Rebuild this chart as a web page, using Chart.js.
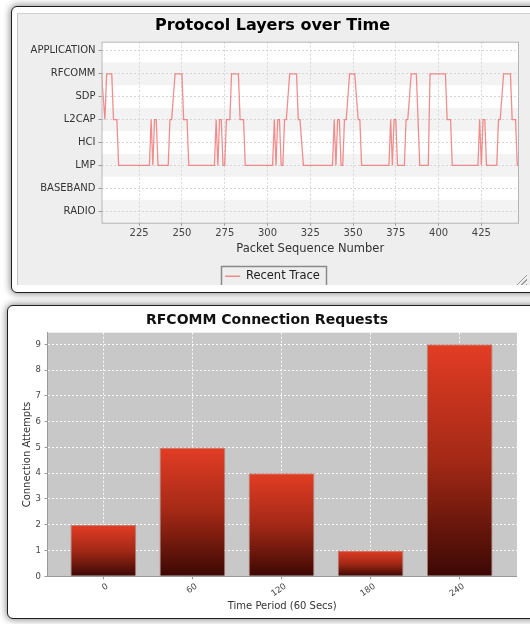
<!DOCTYPE html>
<html>
<head>
<meta charset="utf-8">
<script src="https://cdn.jsdelivr.net/npm/chart.js@4.4.1/dist/chart.umd.min.js"></script>
<style>
  html, body { margin: 0; padding: 0; background: #fff; }
  #page { position: relative; width: 530px; height: 624px; overflow: hidden; background: #fff; }
  .win { position: absolute; background: #fff; border: 1.5px solid #1e1e1e; border-radius: 6px;
         box-shadow: 0 0 7px 1px rgba(0,0,0,0.45); }
  #win1 { left: 11px; top: 6px; width: 540px; height: 285px; }
  #win2 { left: 7px; top: 305px; width: 540px; height: 312px; }
  #panel1 { position: absolute; left: 17px; top: 13px; width: 530px; height: 272px; overflow: hidden;
            background: #eeeeee; border-left: 1px solid #c4c4c4; border-top: 1px solid #d0d0d0; box-sizing: border-box; }
  #layers { position: absolute; left: 8px; top: 0; }
  #rfcomm { position: absolute; left: 17px; top: 306px; }
  #grip { position: absolute; left: 514px; top: 272px; width: 13px; height: 13px;
          background: repeating-linear-gradient(135deg, transparent 0 2px, #9a9a9a 2px 3px);
          clip-path: polygon(100% 0, 100% 100%, 0 100%); }
</style>
</head>
<body>
<div id="page">
  <div class="win" id="win1"></div>
  <div id="panel1"><canvas id="layers" width="493" height="278"></canvas></div>
  <div id="grip"></div>
  <div class="win" id="win2"></div>
  <canvas id="rfcomm" width="500" height="312"></canvas>
</div>
<script>
// protocol stack, bottom to top of the symbol axis
var layerNames = ['RADIO', 'BASEBAND', 'LMP', 'HCI', 'L2CAP', 'SDP', 'RFCOMM', 'APPLICATION'];

// recent trace: packet sequence number and the layer it was seen on (corners of the trace)
var seqNums = [203, 205, 206, 209, 210, 212, 213, 231, 232, 233, 234, 235, 236, 242, 243, 244, 246, 250, 251, 253, 254,
    269, 270, 271, 272, 273, 274, 275, 276, 278, 279, 283, 284, 286, 287,
    303, 304, 305, 306, 307, 308, 309, 310, 311, 313, 317, 318, 319, 321,
    338, 339, 340, 341, 342, 343, 344, 345, 346, 348, 351, 353, 354, 355,
    371, 372, 373, 374, 375, 376, 380, 381, 382, 384, 387, 389, 394, 395, 404, 405, 407, 408,
    423, 424, 425, 426, 427, 428, 434, 435, 436, 438, 442, 443, 445, 446, 447];
var traceLayers = ['RFCOMM', 'L2CAP', 'RFCOMM', 'RFCOMM', 'L2CAP', 'L2CAP', 'LMP', 'LMP', 'L2CAP', 'LMP', 'L2CAP', 'L2CAP', 'LMP', 'LMP', 'L2CAP', 'L2CAP', 'RFCOMM', 'RFCOMM', 'L2CAP', 'L2CAP', 'LMP',
    'LMP', 'L2CAP', 'LMP', 'L2CAP', 'L2CAP', 'LMP', 'LMP', 'L2CAP', 'L2CAP', 'RFCOMM', 'RFCOMM', 'L2CAP', 'L2CAP', 'LMP',
    'LMP', 'L2CAP', 'LMP', 'L2CAP', 'L2CAP', 'LMP', 'LMP', 'L2CAP', 'L2CAP', 'RFCOMM', 'RFCOMM', 'L2CAP', 'L2CAP', 'LMP',
    'LMP', 'L2CAP', 'LMP', 'L2CAP', 'L2CAP', 'LMP', 'LMP', 'L2CAP', 'L2CAP', 'RFCOMM', 'RFCOMM', 'L2CAP', 'L2CAP', 'LMP',
    'LMP', 'L2CAP', 'LMP', 'L2CAP', 'L2CAP', 'LMP', 'LMP', 'L2CAP', 'L2CAP', 'RFCOMM', 'RFCOMM', 'LMP', 'LMP', 'RFCOMM', 'RFCOMM', 'L2CAP', 'L2CAP', 'LMP',
    'LMP', 'L2CAP', 'LMP', 'L2CAP', 'L2CAP', 'LMP', 'LMP', 'L2CAP', 'L2CAP', 'RFCOMM', 'RFCOMM', 'L2CAP', 'L2CAP', 'LMP', 'LMP'];

// connection requests per 60 second period
var periods = [0, 60, 120, 180, 240];
var attempts = [2, 5, 4, 1, 9];

Chart.defaults.font.family = "'DejaVu Sans', sans-serif";

//plot background, alternate bands, outline and legend frame
var plotBackdrop = {
    id: 'plotBackdrop',
    beforeDraw: function(chart, args, opts) {
        var ctx = chart.ctx, a = chart.chartArea, y = chart.scales.y;
        ctx.save();
        ctx.fillStyle = opts.color;
        ctx.fillRect(a.left, a.top, a.width, a.height);
        if (opts.bandColor) {
            ctx.fillStyle = opts.bandColor;
            for (var i = 0; i < layerNames.length; i += 2) {
                var top = Math.max(y.getPixelForValue(i + 0.5), a.top);
                var bottom = Math.min(y.getPixelForValue(i - 0.5), a.bottom);
                ctx.fillRect(a.left, top, a.width, bottom - top);
            }
        }
        ctx.restore();
    },
    afterDraw: function(chart, args, opts) {
        var ctx = chart.ctx, a = chart.chartArea;
        ctx.save();
        if (opts.outline) {
            ctx.strokeStyle = opts.outline;
            ctx.lineWidth = 1;
            ctx.strokeRect(a.left + 0.5, a.top + 0.5, a.width - 1, a.height);
        }
        if (opts.legendFrame && chart.legend && chart.legend.legendHitBoxes.length) {
            var h = chart.legend.legendHitBoxes[0];
            ctx.strokeStyle = opts.legendFrame;
            ctx.lineWidth = 1.5;
            ctx.strokeRect(Math.round(h.left - 4) + 0.5, Math.round(h.top - 5) + 0.5, Math.round(h.width + 10), Math.round(h.height + 10));
        }
        ctx.restore();
    }
};

function insertLayers() {
    var points = seqNums.map(function(s, i) {
        return {x: s, y: layerNames.indexOf(traceLayers[i])};
    });
    new Chart(document.getElementById('layers'), {
        type: 'line',
        data: {
            datasets: [{
                label: 'Recent Trace',
                data: points,
                borderColor: 'rgba(236,100,100,0.72)',
                backgroundColor: 'rgba(236,100,100,0.72)',
                borderWidth: 1.3,
                pointRadius: 0,
                tension: 0,
                fill: false
            }]
        },
        options: {
            responsive: false,
            animation: false,
            layout: {padding: 0},
            plugins: {
                title: {
                    display: true,
                    text: 'Protocol Layers over Time',
                    color: '#000',
                    font: {size: 16, weight: 'bold'},
                    padding: {top: 2.4, bottom: 6.1}
                },
                legend: {
                    position: 'bottom',
                    labels: {
                        usePointStyle: true,
                        pointStyle: 'line',
                        pointStyleWidth: 15,
                        color: '#222',
                        font: {size: 11.5},
                        padding: 6
                    }
                },
                tooltip: {enabled: false},
                plotBackdrop: {color: '#ffffff', bandColor: '#f3f3f3', outline: '#b4b4b4', legendFrame: '#8a8a8a'}
            },
            scales: {
                x: {
                    type: 'linear',
                    min: 203,
                    max: 447,
                    afterFit: function(s) { s.height = 41.8; },
                    ticks: {stepSize: 25, includeBounds: false, maxRotation: 0, color: '#444', font: {size: 10}, padding: 2},
                    grid: {color: '#d6d6d6', tickLength: 3, tickColor: '#999'},
                    border: {display: false, dash: [2, 2]},
                    title: {display: true, text: 'Packet Sequence Number', color: '#333', font: {size: 11.5}, padding: {top: 0, bottom: 8.3}}
                },
                y: {
                    type: 'linear',
                    min: -0.5,
                    max: 7.4,
                    afterFit: function(s) { s.width = 75.5; },
                    afterBuildTicks: function(s) {
                        s.ticks = layerNames.map(function(n, i) { return {value: i}; });
                    },
                    ticks: {
                        autoSkip: false,
                        color: '#333',
                        font: {size: 10},
                        padding: 3,
                        callback: function(v) { return layerNames[v]; }
                    },
                    grid: {color: '#d6d6d6', tickLength: 3, tickColor: '#999'},
                    border: {display: false, dash: [2, 2]}
                }
            }
        },
        plugins: [plotBackdrop]
    });
}

function insertRequests() {
    //one gradient per bar, bright on top and dark at zero
    var barFill = function(context) {
        var chart = context.chart;
        if (!chart.chartArea || context.type !== 'data') return '#c8341f';
        var y = chart.scales.y;
        var g = chart.ctx.createLinearGradient(0, y.getPixelForValue(context.raw.y), 0, y.getPixelForValue(0));
        g.addColorStop(0, '#e33d24');
        g.addColorStop(0.5, '#a32916');
        g.addColorStop(1, '#3c0804');
        return g;
    };
    new Chart(document.getElementById('rfcomm'), {
        type: 'bar',
        data: {
            datasets: [{
                label: 'Connection Attempts',
                data: periods.map(function(p, i) { return {x: p, y: attempts[i]}; }),
                backgroundColor: barFill,
                borderColor: 'rgba(175,120,112,0.9)',
                borderWidth: 1,
                barPercentage: 0.738,
                categoryPercentage: 1
            }]
        },
        options: {
            responsive: false,
            animation: false,
            layout: {padding: 0},
            plugins: {
                title: {
                    display: true,
                    text: 'RFCOMM Connection Requests',
                    color: '#111',
                    font: {size: 14, weight: 'bold'},
                    padding: {top: 5.6, bottom: 4.3}
                },
                legend: {display: false},
                tooltip: {enabled: false},
                plotBackdrop: {color: '#c8c8c8'}
            },
            scales: {
                x: {
                    type: 'linear',
                    offset: false,
                    min: -37.6,
                    max: 278.6,
                    afterFit: function(s) { s.height = 41.7; },
                    afterBuildTicks: function(s) {
                        s.ticks = periods.map(function(p) { return {value: p}; });
                    },
                    ticks: {minRotation: 35, maxRotation: 35, labelOffset: 4, color: '#444', font: {size: 8.5}, padding: 2},
                    grid: {offset: false, color: 'rgba(255,255,255,0.9)', tickLength: 3, tickColor: '#999'},
                    border: {display: true, color: '#9a9a9a', dash: [2, 2]},
                    title: {display: true, text: 'Time Period (60 Secs)', color: '#333', font: {size: 10}, padding: {top: 0, bottom: 5.3}}
                },
                y: {
                    min: 0,
                    max: 9.45,
                    afterFit: function(s) { s.width = 30.5; },
                    ticks: {stepSize: 1, includeBounds: false, color: '#444', font: {size: 8.5}, padding: 3.5},
                    grid: {color: 'rgba(255,255,255,0.9)', tickLength: 3, tickColor: '#999'},
                    border: {display: true, color: '#9a9a9a', dash: [2, 2]},
                    title: {display: true, text: 'Connection Attempts', color: '#333', font: {size: 10}, padding: {top: 4.5, bottom: 0}}
                }
            }
        },
        plugins: [plotBackdrop]
    });
}

insertLayers();
insertRequests();
</script>
</body>
</html>
